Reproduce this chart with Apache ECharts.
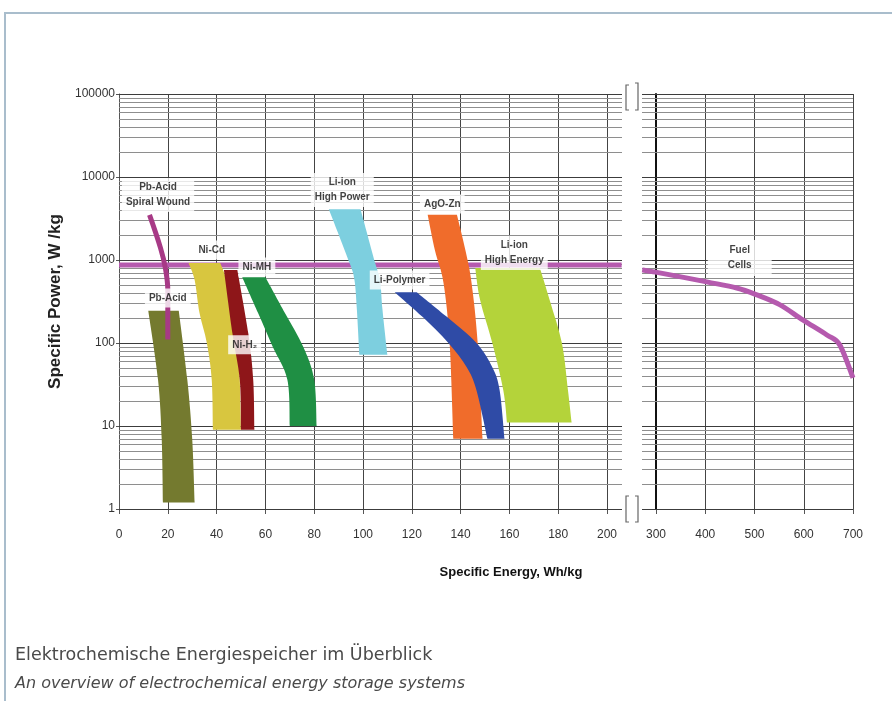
<!DOCTYPE html>
<html>
<head>
<meta charset="utf-8">
<title>Elektrochemische Energiespeicher im Überblick</title>
<script src="https://cdn.jsdelivr.net/npm/echarts@6.0.0/dist/echarts.min.js"></script>
<style>
  html, body { margin: 0; padding: 0; background: #fff; }
  #chart { width: 892px; height: 701px; }
</style>
</head>
<body>
<div id="chart"></div>
<script>
// axis ranges (specific energy Wh/kg, specific power W/kg)
const energyRangeLeft = [0, 200]
const energyRangeRight = [300, 700]
const powerRange = [1, 100000]
const powerGridLines = [
  1, 2, 3, 4, 5, 6, 7, 8, 9,
  10, 20, 30, 40, 50, 60, 70, 80, 90,
  100, 200, 300, 400, 500, 600, 700, 800, 900,
  1000, 2000, 3000, 4000, 5000, 6000, 7000, 8000, 9000,
  10000, 20000, 30000, 40000, 50000, 60000, 70000, 80000, 90000,
  100000
]

// bands: left and right edge, [energy, power], top to bottom
const pbAcidLeft = [[12, 245], [16, 36], [17.5, 7], [18, 1.2]]
const pbAcidRight = [[24.5, 245], [28, 36], [30, 7], [31, 1.2]]
const niCdLeft = [[28.5, 920], [31, 575], [33, 230], [36, 100], [38, 36], [38.5, 9]]
const niCdRight = [[41.5, 920], [44, 575], [46.5, 230], [48.5, 100], [49.5, 36], [50, 9]]
const niH2Left = [[43, 760], [46.5, 130], [49.5, 36], [50, 9]]
const niH2Right = [[48.5, 760], [53, 130], [55, 36], [55.5, 9]]
const niMhLeft = [[50.5, 620], [57, 230], [63, 90], [69, 36], [70, 10]]
const niMhRight = [[60, 620], [68, 230], [75.5, 90], [80, 36], [81, 10]]
const liIonHpLeft = [[86, 4100], [94.5, 920], [96.5, 575], [97.5, 250], [98.5, 72]]
const liIonHpRight = [[99, 4100], [105, 920], [107, 575], [108, 250], [110, 72]]
const agoZnLeft = [[126.5, 3500], [129.5, 1300], [133, 530], [135.5, 100], [137, 7]]
const agoZnRight = [[138.5, 3500], [142, 1300], [144.5, 530], [147, 100], [149, 7]]
const liPolyLeft = [[113, 410], [124.5, 205], [135, 100], [142.5, 51], [146.5, 27], [151, 7]]
const liPolyRight = [[122, 410], [134.5, 205], [146.5, 100], [153, 51], [156, 27], [158, 7]]
const liIonHeLeft = [[146, 800], [148, 330], [153, 100], [157.5, 27], [159, 11]]
const liIonHeRight = [[172.5, 800], [176.5, 330], [181.5, 100], [184, 27], [185.5, 11]]

// lines
const pbSpiral = [[12.5, 3500], [17, 1400], [19, 800], [20, 430], [20, 110]]
const fuelFlat = [[0, 870], [206, 870]]
const fuelCells = [[272, 760], [302, 710], [403, 545], [464, 460], [505, 380], [551, 290], [598, 190], [647, 125], [673, 95], [700, 38]]

// annotations
const labelTexts = ['Pb-Acid\nSpiral Wound', 'Ni-Cd', 'Ni-MH', 'Pb-Acid', 'Ni-H₂', 'Li-ion\nHigh Power', 'AgO-Zn', 'Li-Polymer', 'Li-ion\nHigh Energy']
const labelAnchors = [[16, 6070], [38, 1320], [56.5, 824], [20, 348], [51.5, 95], [91.5, 6970], [132.5, 4730], [115, 574], [162, 1214]]
const fuelLabel = 'Fuel\nCells'
const fuelLabelAnchor = [470, 1057]
const yTitle = 'Specific Power, W /kg'
const xTitle = 'Specific Energy, Wh/kg'
const captionDe = 'Elektrochemische Energiespeicher im Überblick'
const captionEn = 'An overview of electrochemical energy storage systems'

const chart = echarts.init(document.getElementById('chart'))

// smooth curve through screen points (catmull-rom -> bezier)
function curveThrough(pts, move) {
  let d = (move ? 'M' : 'L') + pts[0][0] + ',' + pts[0][1]
  for (let i = 0; i < pts.length - 1; i++) {
    const p0 = pts[Math.max(i - 1, 0)]
    const p1 = pts[i]
    const p2 = pts[i + 1]
    const p3 = pts[Math.min(i + 2, pts.length - 1)]
    const c1 = [p1[0] + (p2[0] - p0[0]) / 6, p1[1] + (p2[1] - p0[1]) / 6]
    const c2 = [p2[0] - (p3[0] - p1[0]) / 6, p2[1] - (p3[1] - p1[1]) / 6]
    d += ' C' + c1[0] + ',' + c1[1] + ' ' + c2[0] + ',' + c2[1] + ' ' + p2[0] + ',' + p2[1]
  }
  return d
}

function bandSeries(name, left, right, color) {
  return {
    type: 'custom',
    name: name,
    xAxisIndex: 0,
    yAxisIndex: 0,
    z: 3,
    silent: true,
    data: [left[0]],
    renderItem: function (params, api) {
      const l = left.map((p) => api.coord(p))
      const r = right.map((p) => api.coord(p)).reverse()
      return {
        type: 'path',
        shape: { pathData: curveThrough(l, true) + ' ' + curveThrough(r, false) + ' Z' },
        style: { fill: color, stroke: null }
      }
    }
  }
}

// thick curve that may run past the axis ends (the break gap)
function curveSeries(name, axisIndex, xMin, pts, color, width, z) {
  return {
    type: 'custom',
    name: name,
    xAxisIndex: axisIndex,
    yAxisIndex: axisIndex,
    z: z,
    silent: true,
    data: [[xMin, 10]],
    renderItem: function (params, api) {
      const p = pts.map((d) => api.coord(d))
      return {
        type: 'path',
        shape: { pathData: curveThrough(p, true) },
        style: { fill: null, stroke: color, lineWidth: width, lineJoin: 'round' }
      }
    }
  }
}

function gridLineSeries(axisIndex, xMin, extLeft, extRight) {
  return {
    type: 'custom',
    xAxisIndex: axisIndex,
    yAxisIndex: axisIndex,
    z: 1,
    silent: true,
    data: powerGridLines.map((v) => [xMin, v]),
    renderItem: function (params, api) {
      const cs = params.coordSys
      const v = api.value(1)
      const y = Math.round(api.coord([api.value(0), v])[1]) + 0.5
      const major = Math.abs(Math.log10(v) - Math.round(Math.log10(v))) < 1e-6
      return {
        type: 'line',
        shape: { x1: cs.x - extLeft, y1: y, x2: cs.x + cs.width + extRight, y2: y },
        style: { stroke: major ? '#3c3c3c' : '#8e8e8e', lineWidth: 1 }
      }
    }
  }
}

const labelStyle = {
  show: true,
  position: 'inside',
  formatter: '{b}',
  color: '#111',
  fontFamily: 'Liberation Sans',
  fontWeight: 'bold',
  fontSize: 10,
  lineHeight: 15,
  align: 'center',
  backgroundColor: '#ffffff',
  padding: [2, 4]
}

const tickFont = { fontFamily: 'Liberation Sans', fontSize: 12, color: '#333' }

const option = {
  animation: false,
  backgroundColor: '#fff',
  title: [
    {
      text: captionDe,
      left: 10,
      top: 641,
      textStyle: { fontFamily: 'DejaVu Sans', fontSize: 17.5, fontWeight: 'normal', color: '#4a4a4a' }
    },
    {
      text: captionEn,
      left: 10,
      top: 671,
      textStyle: { fontFamily: 'DejaVu Sans', fontSize: 16, fontWeight: 'normal', fontStyle: 'italic', color: '#4a4a4a' }
    }
  ],
  grid: [
    { left: 119, top: 94, width: 488, height: 415 },
    { left: 656, top: 94, width: 197, height: 415 }
  ],
  xAxis: [
    {
      gridIndex: 0,
      type: 'value',
      min: energyRangeLeft[0],
      max: energyRangeLeft[1],
      interval: 20,
      axisLine: { show: true, lineStyle: { color: '#555' } },
      axisTick: { show: true, length: 5, lineStyle: { color: '#555' } },
      axisLabel: Object.assign({ margin: 20 }, tickFont),
      splitLine: { show: true, lineStyle: { color: '#444', width: 1 } }
    },
    {
      gridIndex: 1,
      type: 'value',
      min: energyRangeRight[0],
      max: energyRangeRight[1],
      interval: 100,
      axisLine: { show: true, lineStyle: { color: '#555' } },
      axisTick: { show: true, length: 5, lineStyle: { color: '#555' } },
      axisLabel: Object.assign({ margin: 20 }, tickFont),
      splitLine: { show: true, lineStyle: { color: '#444', width: 1 } }
    }
  ],
  yAxis: [
    {
      gridIndex: 0,
      type: 'log',
      logBase: 10,
      min: powerRange[0],
      max: powerRange[1],
      name: yTitle,
      nameLocation: 'middle',
      nameRotate: 90,
      nameGap: 45,
      nameTextStyle: { fontFamily: 'Liberation Sans', fontWeight: 'bold', fontSize: 17, color: '#222' },
      axisLine: { show: true, lineStyle: { color: '#555' } },
      axisTick: { show: true, length: 3, lineStyle: { color: '#555' } },
      axisLabel: Object.assign({ margin: 4, formatter: (v) => String(Math.round(v)) }, tickFont),
      splitLine: { show: false }
    },
    {
      gridIndex: 1,
      type: 'log',
      logBase: 10,
      min: powerRange[0],
      max: powerRange[1],
      axisLine: { show: true, lineStyle: { color: '#111', width: 2 } },
      axisTick: { show: false },
      axisLabel: { show: false },
      splitLine: { show: false }
    }
  ],
  series: [
    gridLineSeries(0, energyRangeLeft[0], 0, 15),
    gridLineSeries(1, energyRangeRight[0], 14, 0),
    curveSeries('Fuel Cells (flat)', 0, energyRangeLeft[0], fuelFlat, '#b55aae', 5, 2),
    bandSeries('Pb-Acid', pbAcidLeft, pbAcidRight, '#747a2f'),
    bandSeries('Ni-Cd', niCdLeft, niCdRight, '#d8c63f'),
    bandSeries('Ni-H2', niH2Left, niH2Right, '#8e1619'),
    bandSeries('Ni-MH', niMhLeft, niMhRight, '#1f8f44'),
    bandSeries('Li-ion High Power', liIonHpLeft, liIonHpRight, '#7dcfdf'),
    bandSeries('AgO-Zn', agoZnLeft, agoZnRight, '#f06c2b'),
    bandSeries('Li-Polymer', liPolyLeft, liPolyRight, '#2f4ba6'),
    bandSeries('Li-ion High Energy', liIonHeLeft, liIonHeRight, '#b4d33a'),
    {
      type: 'line',
      name: 'Pb-Acid Spiral Wound',
      xAxisIndex: 0,
      yAxisIndex: 0,
      data: pbSpiral,
      smooth: 0.4,
      symbol: 'none',
      z: 4,
      silent: true,
      lineStyle: { color: '#a73a86', width: 5 }
    },
    curveSeries('Fuel Cells', 1, energyRangeRight[0], fuelCells, '#b55aae', 5, 4),
    {
      type: 'scatter',
      xAxisIndex: 0,
      yAxisIndex: 0,
      symbolSize: 0,
      z: 6,
      silent: true,
      data: labelAnchors.map((p, i) => ({ value: p, name: labelTexts[i] })),
      label: labelStyle
    },
    {
      type: 'scatter',
      xAxisIndex: 1,
      yAxisIndex: 1,
      symbolSize: 0,
      z: 6,
      silent: true,
      data: [{ value: fuelLabelAnchor, name: fuelLabel }],
      label: Object.assign({}, labelStyle, { padding: [3, 20] })
    }
  ],
  graphic: [
    // frame
    { type: 'line', shape: { x1: 4, y1: 13, x2: 892, y2: 13 }, style: { stroke: '#a9bdcc', lineWidth: 2 } },
    { type: 'line', shape: { x1: 5, y1: 13, x2: 5, y2: 701 }, style: { stroke: '#a9bdcc', lineWidth: 2 } },
    // axis break marks
    { type: 'polyline', shape: { points: [[629, 85], [626, 85], [626, 110], [629, 110]] }, style: { stroke: '#666', fill: null, lineWidth: 1.2 } },
    { type: 'polyline', shape: { points: [[635, 83], [638, 83], [638, 110], [635, 110]] }, style: { stroke: '#666', fill: null, lineWidth: 1.2 } },
    { type: 'polyline', shape: { points: [[629, 496], [626, 496], [626, 522], [629, 522]] }, style: { stroke: '#666', fill: null, lineWidth: 1.2 } },
    { type: 'polyline', shape: { points: [[635, 496], [638, 496], [638, 522], [635, 522]] }, style: { stroke: '#666', fill: null, lineWidth: 1.2 } },
    {
      type: 'text',
      x: 511,
      y: 572,
      style: {
        text: xTitle,
        font: 'bold 13px "Liberation Sans"',
        fill: '#111',
        align: 'center',
        verticalAlign: 'middle',
        textAlign: 'center',
        textVerticalAlign: 'middle'
      }
    }
  ]
}

chart.setOption(option)
window.onresize = chart.resize
</script>
</body>
</html>
